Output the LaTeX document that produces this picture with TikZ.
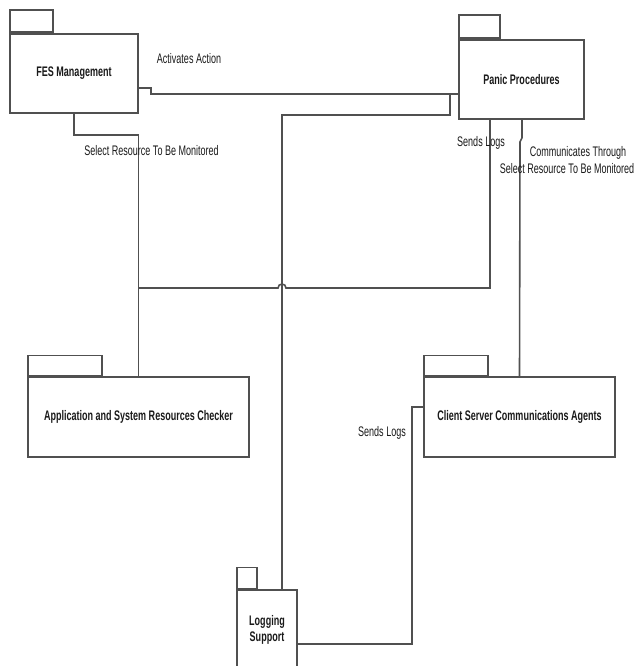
\documentclass[tikz,border=0pt]{standalone}
\usepackage{fontspec}
\setmainfont{Liberation Sans}[FakeStretch=0.65]
\usetikzlibrary{calc}
\definecolor{lc}{HTML}{505050}
\definecolor{tc}{HTML}{1a1a1a}
\begin{document}
\begin{tikzpicture}[x=0.75pt,y=-0.75pt,
  line/.style={draw=lc,line width=1.2pt},
  pkg/.style={draw=lc,line width=1.25pt,fill=white,inner sep=0pt,text=tc,
    font=\fontsize{10.4}{12.5}\selectfont\bfseries,align=center},
  tab/.style={draw=lc,line width=1.25pt,inner sep=0pt,anchor=south west},
  lbl/.style={font=\fontsize{10.4}{12}\selectfont,inner sep=0pt,align=center,text=tc}]
\fill[white] (0,0) rectangle (635,666);
\useasboundingbox (0,0) rectangle (635,666);

% packages
\node[pkg,minimum width={128*0.75pt},minimum height={79*0.75pt}] (fes) at (74,73.5) {FES Management};
\node[tab,minimum width={43*0.75pt},minimum height={22*0.75pt}] (fesT) at (fes.north west) {};

\node[pkg,minimum width={125*0.75pt},minimum height={79*0.75pt}] (panic) at (521.5,79.5) {Panic Procedures};
\node[tab,minimum width={41*0.75pt},minimum height={23*0.75pt}] (panicT) at (panic.north west) {};

\node[pkg,minimum width={221*0.75pt},minimum height={80*0.75pt}] (asrc) at (138.5,417) {Application and System Resources Checker};
\node[tab,minimum width={74*0.75pt},minimum height={20*0.75pt}] (asrcT) at (asrc.north west) {};

\node[pkg,minimum width={191*0.75pt},minimum height={80*0.75pt}] (csc) at (519.5,417) {Client Server Communications Agents};
\node[tab,minimum width={64*0.75pt},minimum height={20*0.75pt}] (cscT) at (csc.north west) {};

\node[pkg,minimum width={60*0.75pt},minimum height={80*0.75pt}] (log) at (267,630) {Logging\\Support};
\node[tab,minimum width={20*0.75pt},minimum height={21*0.75pt}] (logT) at (log.north west) {};

% junction coordinates
\coordinate (j1) at (450,94);
\coordinate (j2) at (138.5,288);

% connectors
\draw[line] ($(fes.east)+(0,14.5)$) -- ++(12,0) -- ++(0,6) -- ($(panic.west)+(0,14.5)$);
\draw[line] ($(log.north)+(15,0)$) |- ($(j1)+(0,21)$) -- (j1);
\draw[line] (fes.south) -- ++(0,21) -| (asrc.north);
\draw[line] ($(panic.south)+(-31.5,0)$) |- (286,288) arc[start angle=0,end angle=-180,radius=4] -- (j2);
\draw[line] ($(panic.south)+(0.5,0)$) -- ++(0,18) -- ++(-2,4) -- (csc.north);
\draw[line] ($(log.east)+(0,14)$) -- (412,644) |- ($(csc.west)+(0,-10)$);

% labels
\node[lbl] (l1) at (189,59) {Activates Action};
\node[lbl] (l2) at (151.5,151) {Select Resource To Be Monitored};
\node[lbl] (l3) at (481,143) {Sends Logs};
\node[lbl] (l4) at (578,153) {Communicates Through};
\node[lbl] (l5) at (567,169) {Select Resource To Be Monitored};
\node[lbl] (l6) at (382,433) {Sends Logs};
\end{tikzpicture}
\end{document}
